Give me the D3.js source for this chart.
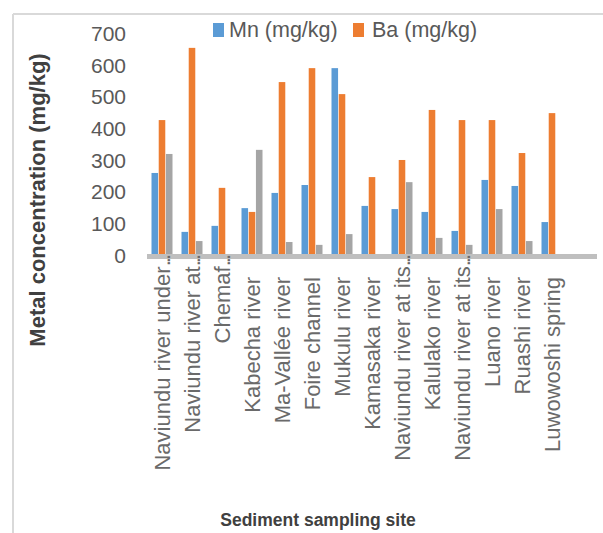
<!DOCTYPE html>
<html>
<head>
<meta charset="utf-8">
<script src="https://cdn.jsdelivr.net/npm/d3@7"></script>
<style>
  html, body { margin: 0; padding: 0; background: #fff; }
  svg { display: block; font-family: "Liberation Sans", Arial, sans-serif; }
</style>
</head>
<body>
<svg id="chart" width="603" height="533"></svg>
<script>
// Sampling sites (labels as shown on the axis, long names cut with "...")
const sites = [
  "Naviundu river under...",
  "Naviundu river at...",
  "Chemaf...",
  "Kabecha river",
  "Ma-Vallée river",
  "Foire channel",
  "Mukulu river",
  "Kamasaka river",
  "Naviundu river at its...",
  "Kalulako river",
  "Naviundu river at its...",
  "Luano river",
  "Ruashi river",
  "Luwowoshi spring"
];

// Metal concentrations in sediment (mg/kg)
const mn     = [259, 73, 92, 148, 196, 221, 590, 155, 145, 136, 76, 237, 218, 104];
const ba     = [426, 654, 212, 136, 546, 590, 508, 246, 300, 458, 426, 426, 322, 448];
const third  = [319, 44, 0, 332, 41, 32, 66, 0, 230, 54, 32, 145, 44, 0];

const seriesNames  = ["Mn (mg/kg)", "Ba (mg/kg)", ""];
const seriesValues = [mn, ba, third];
const seriesColors = ["#5b9bd5", "#ed7d31", "#a5a5a5"];
const legendNames  = ["Mn (mg/kg)", "Ba (mg/kg)"];

const yTicks = [0, 100, 200, 300, 400, 500, 600, 700];

const svg = d3.select("#chart");

// Outer chart frame (top and left edges visible)
svg.append("line").attr("x1", 13).attr("y1", 14).attr("x2", 603).attr("y2", 14)
  .attr("stroke", "#d9d9d9").attr("stroke-width", 2);
svg.append("line").attr("x1", 13).attr("y1", 14).attr("x2", 13).attr("y2", 533)
  .attr("stroke", "#d9d9d9").attr("stroke-width", 2);

// Scales
const idx = d3.range(sites.length);
const x = d3.scaleBand().domain(idx).range([147, 567]).padding(0);
const inner = d3.scaleBand().domain(d3.range(seriesValues.length))
  .range([0, x.bandwidth() * 0.7]).paddingInner(0.09);
const groupOffset = (x.bandwidth() - x.bandwidth() * 0.7) / 2;
const y = d3.scaleLinear().domain([0, 700]).range([255, 33.3]);

// Bars
const rows = idx.map(i => ({ i, vals: seriesValues.map(s => s[i]) }));
const groups = svg.append("g").selectAll("g").data(rows).join("g")
  .attr("transform", d => `translate(${x(d.i) + groupOffset},0)`);
groups.selectAll("rect")
  .data(d => d.vals.map((v, k) => ({ v, k })).filter(e => e.v > 0))
  .join("rect")
  .attr("x", e => inner(e.k))
  .attr("width", inner.bandwidth())
  .attr("y", e => y(e.v))
  .attr("height", e => y(0) - y(e.v))
  .attr("fill", e => seriesColors[e.k]);

// Category axis line (extends one extra slot to the right)
svg.append("line")
  .attr("x1", x.range()[0]).attr("x2", x.range()[1] + x.step())
  .attr("y1", y(0) + 1.5).attr("y2", y(0) + 1.5)
  .attr("stroke", "#bfbfbf").attr("stroke-width", 5);

// Value axis labels
svg.append("g").selectAll("text").data(yTicks).join("text")
  .attr("x", 126).attr("y", d => y(d)).attr("dy", "0.36em")
  .attr("text-anchor", "end")
  .attr("font-size", 21).attr("fill", "#595959")
  .text(d => d);

// Category labels, rotated; cut names keep their dots close to the axis
const lab = svg.append("g").selectAll("text").data(idx).join("text")
  .attr("transform", i => {
    const cut = sites[i].endsWith("...");
    return `translate(${x(i) + x.bandwidth() / 2},${cut ? 257 : 277}) rotate(-90)`;
  })
  .attr("dy", "0.36em")
  .attr("text-anchor", "end")
  .attr("font-size", 22).attr("fill", "#6a6a6a");
lab.each(function(i) {
  const t = d3.select(this);
  const name = sites[i];
  if (name.endsWith("...")) {
    t.append("tspan").text(name.slice(0, -3));
    t.append("tspan").attr("letter-spacing", "-3px").text("...");
  } else {
    t.text(name);
  }
});

// Axis titles
svg.append("text")
  .attr("transform", "translate(37,200) rotate(-90)")
  .attr("dy", "0.36em")
  .attr("text-anchor", "middle")
  .attr("font-size", 22).attr("font-weight", "bold").attr("fill", "#404040")
  .text("Metal concentration (mg/kg)");

svg.append("text")
  .attr("x", 318).attr("y", 526)
  .attr("text-anchor", "middle")
  .attr("font-size", 17.5).attr("font-weight", "bold").attr("fill", "#404040")
  .text("Sediment sampling site");

// Legend
const legendX = [213, 353];
const leg = svg.append("g").selectAll("g").data(legendNames).join("g")
  .attr("transform", (d, k) => `translate(${legendX[k]},0)`);
leg.append("rect").attr("x", 0).attr("y", 23).attr("width", 11).attr("height", 14)
  .attr("fill", (d, k) => seriesColors[k]);
leg.append("text").attr("x", (d, k) => k === 0 ? 16 : 19).attr("y", 37)
  .attr("font-size", 21.5).attr("fill", "#595959")
  .text(d => d);
</script>
</body>
</html>
